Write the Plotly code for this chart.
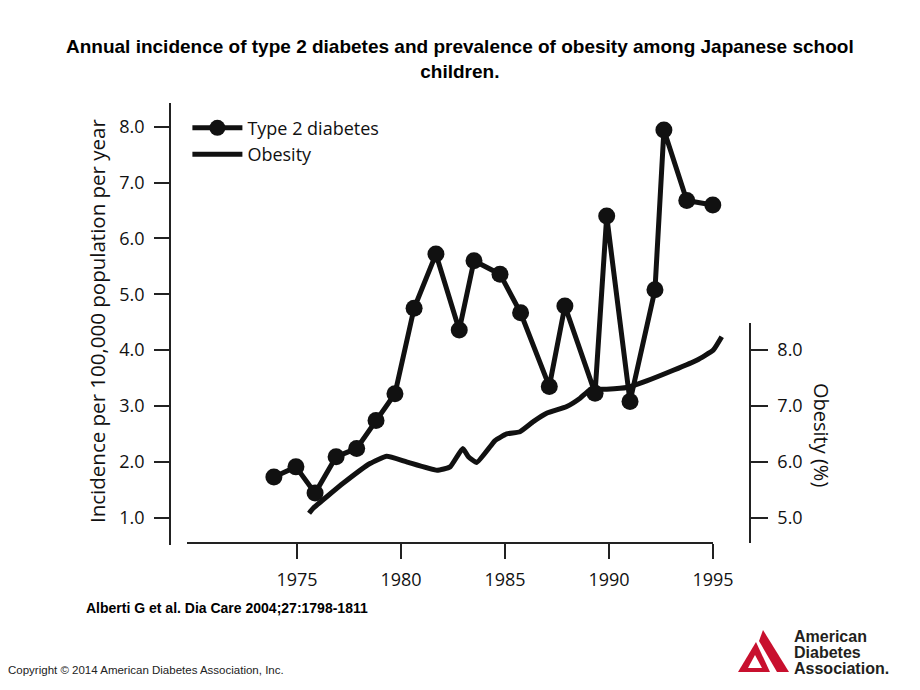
import plotly.graph_objects as go

# ---- data ----
diab_years = [1973.89, 1974.95, 1975.87, 1976.88, 1977.87, 1978.80, 1979.71, 1980.63,
              1981.68, 1982.80, 1983.51, 1984.76, 1985.75, 1987.13, 1987.88, 1989.33,
              1989.89, 1991.01, 1992.21, 1992.64, 1993.74, 1994.99]
diab_incidence = [1.73, 1.91, 1.44, 2.09, 2.24, 2.74, 3.22, 4.75,
                  5.72, 4.36, 5.60, 5.36, 4.67, 3.35, 4.79, 3.23,
                  6.40, 3.08, 5.08, 7.94, 6.68, 6.60]

obes_years = [1975.58, 1975.78, 1977.23, 1978.51, 1979.31, 1980.27, 1981.73, 1982.36,
              1982.97, 1983.24, 1983.64, 1984.28, 1984.52, 1985.08, 1985.72, 1986.36,
              1987.00, 1987.97, 1988.61, 1989.09, 1989.89, 1990.85, 1991.81, 1993.09,
              1994.22, 1995.01, 1995.42]
obes_percent = [5.08, 5.17, 5.62, 5.97, 6.10, 6.00, 5.85, 5.91,
                6.24, 6.09, 5.99, 6.27, 6.38, 6.50, 6.54, 6.72,
                6.87, 6.99, 7.14, 7.29, 7.30, 7.33, 7.45, 7.64,
                7.82, 8.00, 8.24]

x_ticks = [1975, 1980, 1985, 1990, 1995]
left_ticks = [1, 2, 3, 4, 5, 6, 7, 8]
right_ticks = [5, 6, 7, 8]

title_text = ("Annual incidence of type 2 diabetes and prevalence of obesity among Japanese school"
              "<br>children.")
left_title = "Incidence per 100,000 population per year"
right_title = "Obesity (%)"
citation = "Alberti G et al. Dia Care 2004;27:1798-1811"
copyright_text = "Copyright \u00a9 2014 American Diabetes Association, Inc."
logo_lines = ["American", "Diabetes", "Association."]

FONT = "Open Sans, Noto Sans, sans-serif"
ARIAL = "Liberation Sans, Arial, sans-serif"
INK = "#111111"

fig = go.Figure()

fig.add_trace(go.Scatter(
    x=diab_years, y=diab_incidence, name="Type 2 diabetes",
    mode="lines+markers", xaxis="x2", yaxis="y",
    line=dict(color=INK, width=5),
    marker=dict(color=INK, size=17),
    cliponaxis=False,
))
fig.add_trace(go.Scatter(
    x=obes_years, y=obes_percent, name="Obesity",
    mode="lines", xaxis="x", yaxis="y2",
    line=dict(color=INK, width=5, shape="spline", smoothing=0.4),
))

axis_common = dict(showgrid=False, zeroline=False, showline=True, linecolor="#222222",
                   linewidth=1.5, ticks="outside", tickcolor="#222222", tickwidth=1.5,
                   tickfont=dict(family=FONT, size=18, color=INK))

# the page body has an 8px margin, so the figure is 8px smaller and offset accordingly
fig.update_layout(
    width=912, height=682,
    margin=dict(l=162, r=170, t=95, b=145),
    paper_bgcolor="white", plot_bgcolor="rgba(0,0,0,0)",
    font=dict(family=FONT, color=INK),
    showlegend=True,
    legend=dict(x=0.03, y=0.985, xanchor="left", yanchor="top",
                font=dict(family=FONT, size=18, color=INK),
                bgcolor="rgba(0,0,0,0)", itemwidth=50, tracegroupgap=0),
    xaxis=dict(domain=[0, 1], range=[1968.894, 1996.779], visible=False),
    xaxis2=dict(domain=[0.02931, 0.93621], range=[1969.712, 1995.0], anchor="free",
                position=0.0045, tickvals=x_ticks, ticklen=15, ticklabelstandoff=6,
                **axis_common),
    yaxis=dict(domain=[0, 1], range=[0.511, 8.425], anchor="free", position=0,
               tickvals=left_ticks, tickformat=".1f", ticklen=15, ticklabelstandoff=6,
               **axis_common),
    yaxis2=dict(domain=[0.00452, 0.50226], range=[4.547, 8.486], anchor="free",
                position=1, side="right", tickvals=right_ticks, tickformat=".1f",
                ticklen=17, ticklabelstandoff=6, **axis_common),
)

# reference-pixel -> paper conversion (plot area spans x 170..750, y 103..545 on screen)
L, T, PW, PH = 170, 103, 580, 442


def px(xp):
    return (xp - L) / PW


def py(yp):
    return (T + PH - yp) / PH


fig.add_annotation(text="<b>" + title_text + "</b>", x=px(460), y=py(59), xref="paper",
                   yref="paper", xanchor="center", yanchor="middle", showarrow=False,
                   align="center", font=dict(family=ARIAL, size=19, color="#000"))
fig.add_annotation(text=left_title, x=px(97), y=py(321), xref="paper", yref="paper",
                   textangle=-90, showarrow=False, xanchor="center", yanchor="middle",
                   font=dict(family=FONT, size=20.5, color=INK))
fig.add_annotation(text=right_title, x=px(822), y=py(435), xref="paper", yref="paper",
                   textangle=90, showarrow=False, xanchor="center", yanchor="middle",
                   font=dict(family=FONT, size=20, color=INK))
fig.add_annotation(text="<b>" + citation + "</b>", x=px(84), y=py(608), xref="paper",
                   yref="paper", xanchor="left", yanchor="middle", showarrow=False,
                   font=dict(family=ARIAL, size=14, color="#000"))
fig.add_annotation(text=copyright_text, x=px(6), y=py(670), xref="paper", yref="paper",
                   xanchor="left", yanchor="middle", showarrow=False,
                   font=dict(family=ARIAL, size=11.5, color="#222"))
for i, word in enumerate(logo_lines):
    fig.add_annotation(text="<b>" + word + "</b>", x=px(792), y=py(636 + 16 * i),
                       xref="paper", yref="paper", xanchor="left", yanchor="middle",
                       showarrow=False, align="left",
                       font=dict(family=ARIAL, size=16, color="#231f20"))


# ADA logo mark (decoration)
def P(xp, yp):
    return f"{px(xp):.5f},{py(yp):.5f}"


red = "#c8102e"
fig.add_shape(type="path", xref="paper", yref="paper", layer="above",
              path=f"M {P(763,630)} L {P(789,672)} L {P(777,672)} L {P(759,641)} Z",
              fillcolor=red, line=dict(width=0))
fig.add_shape(type="path", xref="paper", yref="paper", layer="above",
              path=f"M {P(756,642)} L {P(770,672)} L {P(738,672)} Z",
              fillcolor=red, line=dict(width=0))
fig.add_shape(type="path", xref="paper", yref="paper", layer="above",
              path=f"M {P(755,655)} L {P(762,668)} L {P(748,668)} Z",
              fillcolor="white", line=dict(width=0))

fig.write_html("out.html")
